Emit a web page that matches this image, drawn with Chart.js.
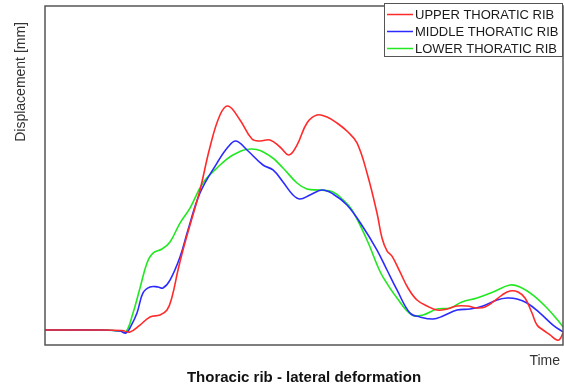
<!DOCTYPE html>
<html>
<head>
<meta charset="utf-8">
<script src="https://cdn.jsdelivr.net/npm/chart.js@4"></script>
<style>
  html, body { margin: 0; padding: 0; background: #fff; }
  canvas { display: block; }
</style>
</head>
<body>
<canvas id="ribChart" width="564" height="389"></canvas>
<script>
// Time samples (ms) and lateral displacement (mm) for each rib level
const upperTime = [0, 13.75, 19.25, 21.25, 23.75, 26.25, 28.75, 30.5, 31.75, 33.25, 34.5, 36.25, 38.75, 41.25, 43.75, 45.75, 48.75, 51.75, 53.75, 56.25, 58.75, 61, 63, 65.5, 68, 70.5, 73, 75.75, 78, 80.5, 83, 84.25, 85.5, 86.75, 88.75, 90.75, 93, 95.5, 98, 100.5, 103, 105.5, 108, 110, 112, 114.25, 116.25, 118.25, 120, 121.75, 123, 124.5, 126.25, 128, 128.75, 129.5];
const upperDisp = [0, 0, -0.3, -1.3, 3.3, 8.7, 10, 13.3, 22, 40, 53.3, 70, 93.3, 122, 143.3, 149.3, 140, 127.3, 126, 126.7, 122, 116.7, 123.3, 138, 143.3, 142, 138, 132, 124.7, 104.7, 78, 61.3, 52.7, 49.3, 38.7, 28, 20, 16, 13.3, 14, 16, 16, 14.7, 15.3, 18.7, 23.3, 26, 25.3, 21.3, 11.3, 3.3, 0, -3.3, -6.7, -6, -2];

const middleTime = [0, 13.75, 18.75, 20.25, 21.5, 23, 24.5, 26.25, 28.25, 29.5, 31.25, 33.75, 35.75, 38.75, 43, 45.75, 47.75, 50.5, 54.5, 57, 59.5, 62, 63.75, 66.25, 69.25, 72, 75.5, 79.5, 83, 85.5, 88, 91.25, 93.75, 97, 99.5, 103, 106.25, 109.5, 113, 115.5, 118, 120.5, 123.75, 127, 129.5];
const middleDisp = [0, 0, -0.7, -2, 2.7, 11.3, 24.7, 28.7, 28.7, 28, 33.3, 48.7, 66.7, 91.3, 111.3, 122, 126, 120, 110, 106.7, 98.7, 90, 87.3, 90, 93.3, 90.7, 83.3, 68.7, 53.3, 40, 26.7, 11.3, 8.7, 7.3, 9.3, 13.3, 14, 16, 20, 21.3, 20.7, 18, 11.3, 3.3, -1.3];

const lowerTime = [0, 13.75, 18.75, 20.25, 22, 23.75, 25.5, 27, 29.25, 31.25, 33.75, 36.25, 39.5, 43, 47, 51.75, 56.25, 59.5, 63, 65.5, 68.75, 72, 74.5, 76.75, 80.5, 83.25, 84.5, 88, 91.75, 94.5, 98, 101.25, 104.25, 108, 112, 116.25, 118.75, 122, 125.5, 128.75, 129.5];
const lowerDisp = [0, 0, -0.7, -1.3, 11.3, 28, 44.7, 51.3, 54, 58.7, 71.3, 81.3, 98, 108, 116.7, 120.7, 116, 108, 98, 94, 93.3, 92, 86.7, 80, 60, 42, 35.3, 21.3, 10, 10, 14, 14.7, 18.7, 21.3, 25.3, 30, 28.7, 23.3, 14.7, 4.7, 2];

const seriesNames = ['UPPER THORATIC RIB', 'MIDDLE THORATIC RIB', 'LOWER THORATIC RIB'];
const seriesColors = ['#ff2b2b', '#2b2bff', '#22e822'];

const chartTitle = 'Thoracic rib - lateral deformation';
const xTitle = 'Time';
const yTitle = 'Displacement [mm]';

const toPoints = (xs, ys) => xs.map((x, i) => ({ x: x, y: ys[i] }));

const FONT = '"Liberation Sans", Arial, Helvetica, sans-serif';

// Frame, axis captions, title and the boxed legend
const decorations = {
  id: 'decorations',
  afterDraw(chart) {
    const { ctx, chartArea: a } = chart;
    ctx.save();

    // plot frame
    ctx.strokeStyle = '#555';
    ctx.lineWidth = 1.5;
    ctx.strokeRect(a.left, a.top, a.right - a.left, a.bottom - a.top);

    // axis captions
    ctx.fillStyle = '#333';
    ctx.font = '14px ' + FONT;
    ctx.textAlign = 'right';
    ctx.textBaseline = 'alphabetic';
    ctx.fillText(xTitle, a.right - 3, a.bottom + 20);

    ctx.save();
    ctx.translate(a.left - 24, a.top + 16);
    ctx.rotate(-Math.PI / 2);
    ctx.textAlign = 'right';
    ctx.textBaseline = 'middle';
    ctx.fillText(yTitle, 0, 0);
    ctx.restore();

    // title
    ctx.fillStyle = '#111';
    ctx.font = 'bold 15px ' + FONT;
    ctx.textAlign = 'center';
    ctx.textBaseline = 'alphabetic';
    ctx.fillText(chartTitle, (a.left + a.right) / 2, a.bottom + 37);

    // legend box
    const boxL = a.right - 179, boxT = a.top - 3, boxW = 179, boxH = 54;
    ctx.fillStyle = '#fff';
    ctx.fillRect(boxL, boxT, boxW, boxH);
    ctx.strokeStyle = '#555';
    ctx.lineWidth = 1;
    ctx.strokeRect(boxL + 0.5, boxT + 0.5, boxW - 1, boxH - 1);

    ctx.font = '13px ' + FONT;
    ctx.textAlign = 'left';
    ctx.textBaseline = 'middle';
    chart.data.datasets.forEach((ds, i) => {
      const y = boxT + 11.5 + i * 17;
      ctx.strokeStyle = ds.borderColor;
      ctx.lineWidth = 1.5;
      ctx.beginPath();
      ctx.moveTo(boxL + 3, y);
      ctx.lineTo(boxL + 29, y);
      ctx.stroke();
      ctx.fillStyle = '#1a1a1a';
      ctx.fillText(ds.label, boxL + 31, y + 0.5);
    });

    ctx.restore();
  }
};

new Chart(document.getElementById('ribChart'), {
  type: 'line',
  data: {
    datasets: [
      { label: seriesNames[0], data: toPoints(upperTime, upperDisp), borderColor: seriesColors[0] },
      { label: seriesNames[1], data: toPoints(middleTime, middleDisp), borderColor: seriesColors[1] },
      { label: seriesNames[2], data: toPoints(lowerTime, lowerDisp), borderColor: seriesColors[2] }
    ]
  },
  options: {
    responsive: false,
    animation: false,
    devicePixelRatio: 1,
    layout: { padding: { left: 45, top: 6, right: 1, bottom: 44 } },
    elements: {
      line: { borderWidth: 1.6, tension: 0.4, fill: false },
      point: { radius: 0, hoverRadius: 0 }
    },
    scales: {
      x: { type: 'linear', min: 0, max: 129.5, display: false },
      y: { type: 'linear', min: -10, max: 216, display: false }
    },
    plugins: {
      legend: { display: false },
      tooltip: { enabled: false }
    }
  },
  plugins: [decorations]
});
</script>
</body>
</html>
